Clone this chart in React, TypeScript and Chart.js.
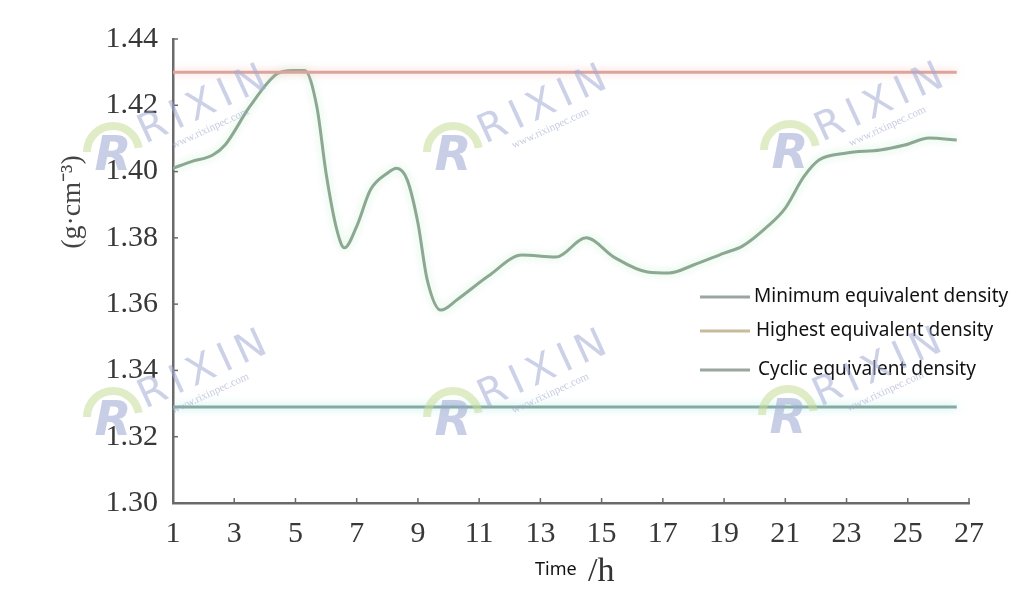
import React, { useEffect, useRef } from "react";
import { Chart, registerables } from "chart.js";

Chart.register(...registerables);

// ---- data ----
const hours = [1, 1.6, 2.3, 2.7, 3.5, 4.4, 4.9, 5.3, 5.7, 6.0, 6.35, 6.6, 7.0, 7.45, 8.0, 8.3, 8.65, 9.0, 9.3, 9.75, 10.3, 11.3, 12.4, 13.5, 14.5, 15.4, 16.5, 17.2, 18.0, 19.0, 19.6, 20.4, 21.0, 21.6, 22.1, 23.0, 24.1, 24.9, 25.7, 26.6];
const cyclicDensity = [1.401, 1.403, 1.405, 1.408, 1.4195, 1.4295, 1.4305, 1.4305, 1.4195, 1.3995, 1.3825, 1.377, 1.3835, 1.3945, 1.3995, 1.401, 1.3975, 1.3845, 1.3675, 1.3582, 1.3615, 1.3685, 1.3748, 1.3742, 1.38, 1.3742, 1.3697, 1.3694, 1.3718, 1.3754, 1.3775, 1.3833, 1.389, 1.3984, 1.4035, 1.4056, 1.4065, 1.408, 1.4101, 1.4095];
const limitHours = [1, 26.6];
const minimumDensity = [1.329, 1.329];
const highestDensity = [1.43, 1.43];
const xTicks = [1, 3, 5, 7, 9, 11, 13, 15, 17, 19, 21, 23, 25, 27];
const yTicks = [1.3, 1.32, 1.34, 1.36, 1.38, 1.4, 1.42, 1.44];
const seriesLabels = ["Minimum equivalent density", "Highest equivalent density", "Cyclic equivalent density"];
const xTitle = "Time";
const xUnit = "/h";
const yTitle = "(g·cm⁻³)";
const watermarkText = "RIXIN";
const watermarkUrl = "www.rixinpec.com";

const lineColors = ["#86aaa4", "#dca49c", "#8ca892"];
const glowColors = ["rgba(140,225,215,0.7)", "rgba(240,170,160,0.6)", "rgba(170,230,185,0.6)"];
const legendColors = ["#9aa6a2", "#c8bb9c", "#9aa69e"];

const pts = (xs: number[], ys: number[]) => xs.map((x, i) => ({ x, y: ys[i] }));

const glowPlugin = {
  id: "glow",
  beforeDatasetDraw(chart: any, args: any) {
    const ds = chart.data.datasets[args.index] as any;
    chart.ctx.save();
    chart.ctx.shadowColor = ds.glow;
    chart.ctx.shadowBlur = 9;
  },
  afterDatasetDraw(chart: any) {
    chart.ctx.restore();
  },
};

const decorPlugin = {
  id: "decor",
  afterDraw(chart: any) {
    const ctx = chart.ctx as CanvasRenderingContext2D;
    const xs = chart.scales.x;
    const ys = chart.scales.y;
    const area = chart.chartArea;
    ctx.save();
    // inward ticks
    ctx.strokeStyle = "#6a6a6a";
    ctx.lineWidth = 1.5;
    xTicks.forEach((v) => {
      const px = xs.getPixelForValue(v);
      ctx.beginPath();
      ctx.moveTo(px, area.bottom);
      ctx.lineTo(px, area.bottom - 5);
      ctx.stroke();
    });
    yTicks.forEach((v) => {
      const py = ys.getPixelForValue(v);
      ctx.beginPath();
      ctx.moveTo(area.left, py);
      ctx.lineTo(area.left + 5, py);
      ctx.stroke();
    });
    // axis titles
    ctx.fillStyle = "#111";
    ctx.textBaseline = "alphabetic";
    ctx.textAlign = "left";
    ctx.font = "18px 'Noto Sans', sans-serif";
    ctx.fillText(xTitle, 535, 575);
    ctx.fillStyle = "#333";
    ctx.font = "34px 'Liberation Serif', serif";
    ctx.fillText(xUnit, 588, 581);
    ctx.save();
    ctx.translate(80, 202);
    ctx.rotate(-Math.PI / 2);
    ctx.textAlign = "center";
    ctx.font = "28px 'Liberation Serif', serif";
    ctx.fillStyle = "#444";
    ctx.fillText(yTitle, 0, 0);
    ctx.restore();
    // legend
    const legY = [297, 331, 370];
    const legX = [754, 756, 758];
    ctx.font = "19px 'Noto Sans', sans-serif";
    ctx.textBaseline = "middle";
    seriesLabels.forEach((label, i) => {
      ctx.strokeStyle = legendColors[i];
      ctx.lineWidth = 3;
      ctx.beginPath();
      ctx.moveTo(700, legY[i]);
      ctx.lineTo(750, legY[i]);
      ctx.stroke();
      ctx.fillStyle = "#111";
      ctx.fillText(label, legX[i], legY[i]);
    });
    // watermarks
    const marks = [
      [113, 150], [453, 150], [790, 148],
      [113, 415], [453, 415], [788, 413],
    ];
    marks.forEach(([cx, cy]) => {
      ctx.save();
      ctx.globalAlpha = 0.55;
      ctx.strokeStyle = "#c6dc98";
      ctx.lineWidth = 8;
      ctx.beginPath();
      ctx.arc(cx, cy + 2, 26, Math.PI * 1.0, Math.PI * 1.95);
      ctx.stroke();
      ctx.fillStyle = "#9aa6d0";
      ctx.font = "italic bold 48px 'DejaVu Sans', sans-serif";
      ctx.textAlign = "center";
      ctx.textBaseline = "middle";
      ctx.fillText("R", cx, cy + 8);
      ctx.translate(cx + 32, cy - 6);
      ctx.rotate(-0.43);
      ctx.fillStyle = "#a2acd6";
      ctx.textAlign = "left";
      ctx.textBaseline = "alphabetic";
      ctx.font = "40px 'DejaVu Sans', sans-serif";
      (ctx as any).letterSpacing = "7px";
      ctx.fillText(watermarkText, 0, 0);
      (ctx as any).letterSpacing = "0px";
      ctx.font = "11px 'Liberation Serif', serif";
      ctx.fillStyle = "#9aa2c8";
      ctx.fillText(watermarkUrl, 24, 16);
      ctx.restore();
    });
    ctx.restore();
  },
};

export default function App() {
  const ref = useRef<HTMLCanvasElement | null>(null);
  useEffect(() => {
    if (!ref.current) return;
    const chart = new Chart(ref.current, {
      type: "line",
      data: {
        datasets: [
          {
            label: seriesLabels[0],
            data: pts(limitHours, minimumDensity),
            borderColor: lineColors[0],
            borderWidth: 3,
            pointRadius: 0,
            glow: glowColors[0],
          } as any,
          {
            label: seriesLabels[1],
            data: pts(limitHours, highestDensity),
            borderColor: lineColors[1],
            borderWidth: 3,
            pointRadius: 0,
            glow: glowColors[1],
          } as any,
          {
            label: seriesLabels[2],
            data: pts(hours, cyclicDensity),
            borderColor: lineColors[2],
            borderWidth: 3,
            pointRadius: 0,
            cubicInterpolationMode: "monotone",
            glow: glowColors[2],
          } as any,
        ],
      },
      options: {
        animation: false,
        responsive: true,
        maintainAspectRatio: false,
        layout: { padding: { left: 0, right: 55, top: 39, bottom: 0 } },
        plugins: { legend: { display: false }, tooltip: { enabled: false } },
        scales: {
          x: {
            type: "linear",
            min: 1,
            max: 27,
            afterBuildTicks: (s: any) => {
              s.ticks = xTicks.map((v) => ({ value: v }));
            },
            afterFit: (s: any) => {
              s.height = 102;
            },
            grid: { display: false, drawTicks: false },
            border: { display: true, color: "#6a6a6a", width: 2.5 },
            ticks: {
              autoSkip: false,
              maxRotation: 0,
              padding: 13,
              color: "#383838",
              font: { family: "'Liberation Serif', serif", size: 30 },
              callback: (v: any) => String(v),
            },
          },
          y: {
            type: "linear",
            min: 1.3,
            max: 1.44,
            afterBuildTicks: (s: any) => {
              s.ticks = yTicks.map((v) => ({ value: v }));
            },
            afterFit: (s: any) => {
              s.width = 173;
            },
            grid: { display: false, drawTicks: false },
            border: { display: true, color: "#6a6a6a", width: 2.5 },
            ticks: {
              padding: 15,
              color: "#383838",
              font: { family: "'Liberation Serif', serif", size: 30 },
              callback: (v: any) => Number(v).toFixed(2),
            },
          },
        },
      } as any,
      plugins: [glowPlugin, decorPlugin],
    });
    return () => chart.destroy();
  }, []);
  return (
    <div style={{ position: "absolute", left: 0, top: 0, width: 1024, height: 605, background: "#fff" }}>
      <canvas ref={ref} />
    </div>
  );
}
